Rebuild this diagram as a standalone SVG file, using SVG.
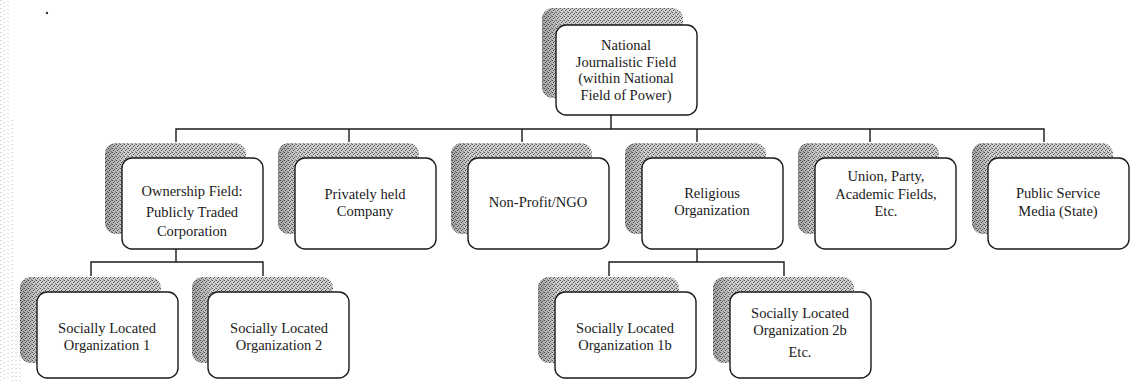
<svg xmlns="http://www.w3.org/2000/svg" width="1134" height="381" viewBox="0 0 1134 381">
<defs>
<pattern id="dither" width="4" height="4" patternUnits="userSpaceOnUse">
<rect width="4" height="4" fill="#d2d2d2"/>
<rect x="0" y="0" width="1" height="1" fill="#555"/>
<rect x="2" y="1" width="1" height="1" fill="#666"/>
<rect x="1" y="2" width="1" height="1" fill="#4a4a4a"/>
<rect x="3" y="3" width="1" height="1" fill="#888"/>
<rect x="3" y="0" width="1" height="1" fill="#999"/>
</pattern>
<linearGradient id="shadeL" x1="0" y1="0" x2="1" y2="0">
<stop offset="0" stop-color="#000" stop-opacity="0.22"/>
<stop offset="0.14" stop-color="#000" stop-opacity="0"/>
</linearGradient>
</defs>
<style>
.sh{fill:url(#dither);}
.shg{fill:url(#shadeL);}
.bx{fill:#fff;stroke:#1a1a1a;stroke-width:1.4;}
.t{font-family:"Liberation Serif","DejaVu Serif",serif;font-size:14.5px;fill:#1a1a1a;text-anchor:middle;}
.c{stroke:#1a1a1a;stroke-width:1.4;fill:none;}
.m{stroke:#bbb;stroke-width:1;stroke-dasharray:1 3;}
</style>
<rect width="1134" height="381" fill="#fff"/>
<g id="margin">
<line class="m" x1="1" y1="0" x2="1" y2="381"/>
<line class="m" x1="4" y1="2" x2="4" y2="381"/>
<line class="m" x1="8" y1="1" x2="8" y2="381"/>
<line class="m" x1="12" y1="120" x2="12" y2="381"/>
<line class="m" x1="16" y1="300" x2="16" y2="381"/>
<line class="m" x1="20" y1="340" x2="20" y2="381"/>
<circle cx="47" cy="13" r="1.2" fill="#333"/>
</g>
<g id="connectors">
<path class="c" d="M611,115 V129"/>
<path class="c" d="M176,142 V129 H1044 V142"/>
<path class="c" d="M349,129 V142 M522,129 V142 M697,129 V142 M870,129 V142"/>
<path class="c" d="M176,249 V262 M91,276 V262 H263 V276"/>
<path class="c" d="M697,249 V262 M609,276 V262 H784 V276"/>
</g>
<g id="n0">
<rect class="sh" x="542" y="8" width="141" height="90" rx="11"/>
<rect class="shg" x="542" y="8" width="141" height="90" rx="11"/>
<rect class="bx" x="556" y="25" width="141" height="90" rx="10"/>
<text class="t" x="626" y="50">National</text>
<text class="t" x="626" y="67">Journalistic Field</text>
<text class="t" x="626" y="83">(within National</text>
<text class="t" x="626" y="100">Field of Power)</text>
</g>
<g id="n1">
<rect class="sh" x="105" y="143" width="141" height="91" rx="11"/>
<rect class="shg" x="105" y="143" width="141" height="91" rx="11"/>
<rect class="bx" x="122" y="158" width="141" height="91" rx="10"/>
<text class="t" x="192" y="196">Ownership Field:</text>
<text class="t" x="192" y="217">Publicly Traded</text>
<text class="t" x="192" y="236">Corporation</text>
</g>
<g id="n2">
<rect class="sh" x="278" y="143" width="141" height="91" rx="11"/>
<rect class="shg" x="278" y="143" width="141" height="91" rx="11"/>
<rect class="bx" x="295" y="158" width="141" height="91" rx="10"/>
<text class="t" x="365" y="199">Privately held</text>
<text class="t" x="365" y="216">Company</text>
</g>
<g id="n3">
<rect class="sh" x="451" y="143" width="141" height="91" rx="11"/>
<rect class="shg" x="451" y="143" width="141" height="91" rx="11"/>
<rect class="bx" x="468" y="158" width="141" height="91" rx="10"/>
<text class="t" x="538" y="207">Non-Profit/NGO</text>
</g>
<g id="n4">
<rect class="sh" x="625" y="143" width="141" height="91" rx="11"/>
<rect class="shg" x="625" y="143" width="141" height="91" rx="11"/>
<rect class="bx" x="642" y="158" width="141" height="91" rx="10"/>
<text class="t" x="712" y="198">Religious</text>
<text class="t" x="712" y="215">Organization</text>
</g>
<g id="n5">
<rect class="sh" x="798" y="143" width="141" height="91" rx="11"/>
<rect class="shg" x="798" y="143" width="141" height="91" rx="11"/>
<rect class="bx" x="815" y="158" width="141" height="91" rx="10"/>
<text class="t" x="886" y="181">Union, Party,</text>
<text class="t" x="886" y="199">Academic Fields,</text>
<text class="t" x="886" y="216">Etc.</text>
</g>
<g id="n6">
<rect class="sh" x="972" y="143" width="141" height="91" rx="11"/>
<rect class="shg" x="972" y="143" width="141" height="91" rx="11"/>
<rect class="bx" x="988" y="158" width="141" height="91" rx="10"/>
<text class="t" x="1058" y="198">Public Service</text>
<text class="t" x="1058" y="216">Media (State)</text>
</g>
<g id="n7">
<rect class="sh" x="20" y="277" width="141" height="86" rx="11"/>
<rect class="shg" x="20" y="277" width="141" height="86" rx="11"/>
<rect class="bx" x="37" y="292" width="141" height="86" rx="10"/>
<text class="t" x="107" y="333">Socially Located</text>
<text class="t" x="107" y="350">Organization 1</text>
</g>
<g id="n8">
<rect class="sh" x="192" y="277" width="141" height="86" rx="11"/>
<rect class="shg" x="192" y="277" width="141" height="86" rx="11"/>
<rect class="bx" x="208" y="292" width="141" height="86" rx="10"/>
<text class="t" x="279" y="333">Socially Located</text>
<text class="t" x="279" y="350">Organization 2</text>
</g>
<g id="n9">
<rect class="sh" x="538" y="277" width="141" height="86" rx="11"/>
<rect class="shg" x="538" y="277" width="141" height="86" rx="11"/>
<rect class="bx" x="555" y="292" width="141" height="86" rx="10"/>
<text class="t" x="625" y="333">Socially Located</text>
<text class="t" x="625" y="350">Organization 1b</text>
</g>
<g id="n10">
<rect class="sh" x="713" y="277" width="141" height="86" rx="11"/>
<rect class="shg" x="713" y="277" width="141" height="86" rx="11"/>
<rect class="bx" x="730" y="292" width="141" height="86" rx="10"/>
<text class="t" x="800" y="318">Socially Located</text>
<text class="t" x="800" y="335">Organization 2b</text>
<text class="t" x="800" y="357">Etc.</text>
</g>
</svg>
